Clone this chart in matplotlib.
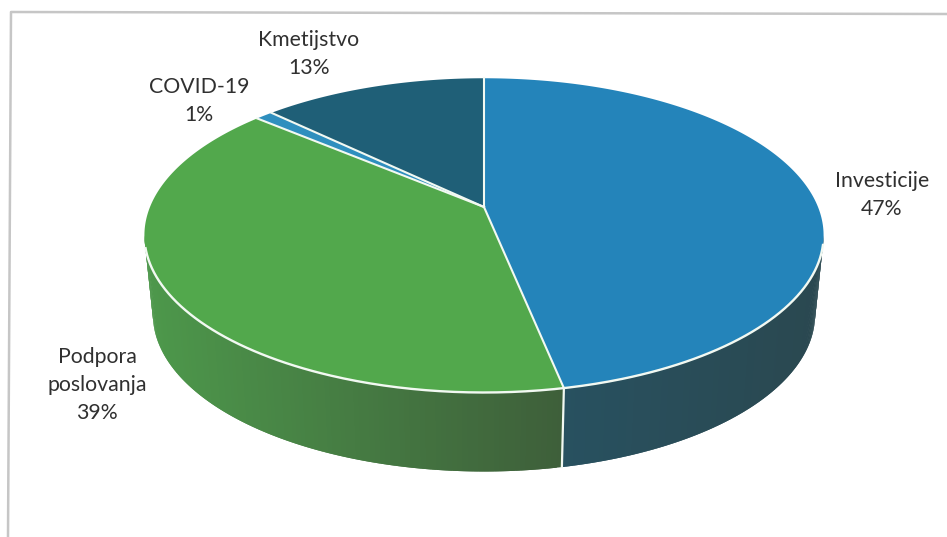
import numpy as np
import matplotlib
matplotlib.use("Agg")
import matplotlib.pyplot as plt
from matplotlib.colors import to_rgb

categories = ["Investicije", "Podpora\nposlovanja", "COVID-19", "Kmetijstvo"]
values = [46.8, 39.4, 1.0, 12.7]
top_colors = ["#2484BA", "#52A84C", "#2F8FBE", "#1F5F77"]
wall_left = ["#285160", "#4D984B", "#2F8FBE", "#1F5F77"]
wall_right = ["#2A4850", "#3E5F3A", "#2F8FBE", "#1F5F77"]
label_pos = [(882, 195), (97, 385), (199, 101), (309, 54)]

CX, CY, R, B, K = 484, 207, 334, 152, 0.1806
DEPTH, SHRINK = 79, 0.975
DIVIDER = "#F2F9F2"


def top(theta):
    u, v = np.sin(theta), np.cos(theta)
    w = 1 / (1 + K * v)
    return CX + R * u * w, CY - B * v * w


def bottom(theta):
    x, y = top(theta)
    return CX + (x - CX) * SHRINK, y + DEPTH


fig = plt.figure(figsize=(9.47, 5.37), dpi=100)
ax = fig.add_axes([0, 0, 1, 1])
ax.set_xlim(0, 947)
ax.set_ylim(537, 0)
ax.axis("off")

# chart frame
ax.plot([8, 11, 947], [537, 12, 14], color="#C6C6C6", lw=1.8, solid_capstyle="butt")

fractions = np.array(values) / sum(values)
edges = np.concatenate([[0], np.cumsum(fractions)]) * 2 * np.pi

# Front-facing range of the side wall
front_start = np.pi / 2 + np.arcsin(K)
front_end = 3 * np.pi / 2 - np.arcsin(K)

for i in range(len(values)):
    a0, a1 = max(edges[i], front_start), min(edges[i + 1], front_end)
    if a1 <= a0:
        continue
    n = 120
    ts = np.linspace(a0, a1, n + 1)
    c0, c1 = np.array(to_rgb(wall_left[i])), np.array(to_rgb(wall_right[i]))
    s0, s1 = (145, 565) if i == 1 else (565, 823)
    for j in range(n):
        # each strip overlaps the next to avoid seams
        tt = np.linspace(ts[j], ts[min(j + 2, n)], 4)
        xt, yt = top(tt)
        xb, yb = bottom(tt)
        s = np.clip((xt[0] - s0) / (s1 - s0), 0, 1)
        ax.fill(np.r_[xt, xb[::-1]], np.r_[yt, yb[::-1]],
                color=c0 + (c1 - c0) * s, lw=0, zorder=2)

for i in range(len(values)):
    ts = np.linspace(edges[i], edges[i + 1], 200)
    x, y = top(ts)
    ax.fill(np.r_[CX, x], np.r_[CY, y], color=top_colors[i], lw=0, zorder=3)

# white dividers
for e in edges[:-1]:
    x, y = top(e)
    ax.plot([CX, x], [CY, y], color=DIVIDER, lw=1.5, zorder=4)
ts = np.linspace(front_start + 0.06, front_end - 0.08, 300)
x, y = top(ts)
ax.plot(x, y, color=DIVIDER, lw=1.7, zorder=4)
e = edges[1]
ax.plot([top(e)[0], bottom(e)[0]], [top(e)[1], bottom(e)[1]],
        color=DIVIDER, lw=1.6, zorder=4)

for cat, val, (lx, ly) in zip(categories, values, label_pos):
    ax.text(lx, ly, f"{cat}\n{round(val)}%", ha="center", va="center",
            family="Lato", fontsize=15.3, color="#303030", linespacing=1.52, zorder=5)

fig.savefig("out.png", dpi=100, facecolor="white")
